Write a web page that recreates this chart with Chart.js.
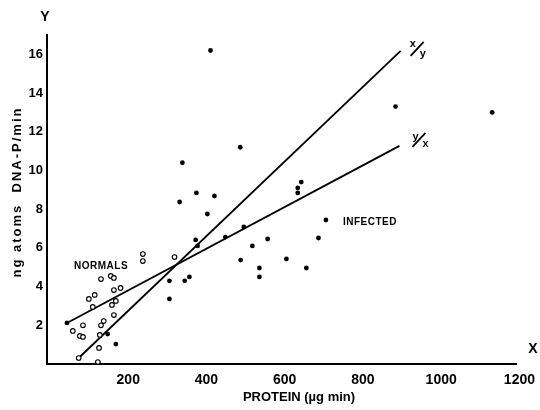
<!DOCTYPE html>
<html><head><meta charset="utf-8">
<script src="https://cdn.jsdelivr.net/npm/chart.js@4"></script>
<style>html,body{margin:0;padding:0;background:#fff}#wrap{width:540px;height:410px}</style>
</head><body><div id="wrap"><canvas id="c" width="540" height="410"></canvas></div>
<script>
// NORMALS (open circles)
const normalsX = [326, 245, 245, 163, 171, 138, 171, 188, 122, 107, 176, 166, 117, 171, 92, 145, 138, 66, 84, 92, 135, 133, 81, 130];
const normalsY = [5.53, 5.68, 5.32, 4.55, 4.45, 4.39, 3.82, 3.93, 3.57, 3.36, 3.26, 3.05, 2.95, 2.53, 2.0, 2.22, 2.0, 1.71, 1.45, 1.4, 1.5, 0.83, 0.31, 0.1];
// INFECTED (filled dots)
const infectedX = [51, 155, 176, 313, 313, 352, 364, 339, 346, 418, 382, 428, 410, 380, 385, 456, 494, 503, 525, 495, 543, 543, 564, 612, 641, 641, 650, 663, 694, 713, 891, 1138];
const infectedY = [2.12, 1.55, 1.03, 4.3, 3.36, 4.3, 4.5, 8.37, 10.4, 16.2, 8.84, 8.68, 7.75, 6.41, 6.1, 6.56, 11.2, 7.08, 6.1, 5.37, 4.96, 4.5, 6.46, 5.43, 9.1, 8.84, 9.4, 4.96, 6.51, 7.44, 13.3, 13.0];
// regression lines (end points)
const lineXonYx = [81, 904];
const lineXonYy = [0.31, 16.18];
const lineYonXx = [51, 901];
const lineYonXy = [2.12, 11.27];
// tick labels
const xTicks = [200, 400, 600, 800, 1000, 1200];
const yTicks = [2, 4, 6, 8, 10, 12, 14, 16];

const pts = (xs, ys) => xs.map((x, i) => ({x: x, y: ys[i]}));
const FONT = '"Liberation Sans", Arial, sans-serif';

const textPlugin = {
  id: 'texts',
  afterDraw(chart) {
    const ctx = chart.ctx;
    const xs = chart.scales.x, ys = chart.scales.y;
    ctx.save();
    ctx.fillStyle = '#000';
    ctx.textBaseline = 'middle';
    // axis letters
    ctx.font = 'bold 14px ' + FONT;
    ctx.textAlign = 'center';
    ctx.fillText('Y', 45, 17);
    ctx.fillText('X', 533, 349);
    // axis titles
    ctx.font = 'bold 13px ' + FONT;
    ctx.fillText('PROTEIN (µg min)', 299, 397);
    ctx.save();
    ctx.translate(17, 192);
    ctx.rotate(-Math.PI / 2);
    try { ctx.letterSpacing = '2px'; } catch (e) {}
    ctx.fillText('ng atoms  DNA-P/min', 0, 0);
    ctx.restore();
    // group labels
    ctx.font = 'bold 10px ' + FONT;
    ctx.textAlign = 'left';
    try { ctx.letterSpacing = '0.5px'; } catch (e) {}
    ctx.fillText('NORMALS', 74, 266);
    ctx.fillText('INFECTED', 343, 222);
    try { ctx.letterSpacing = '0px'; } catch (e) {}
    // line labels x/y and y/x
    const ex1 = xs.getPixelForValue(lineXonYx[1]), ey1 = ys.getPixelForValue(lineXonYy[1]);
    ctx.font = 'bold 11px ' + FONT;
    ctx.fillText('x', ex1 + 9, ey1 - 7);
    ctx.fillText('y', ex1 + 19, ey1 + 3);
    ctx.lineWidth = 1.8;
    ctx.beginPath(); ctx.moveTo(ex1 + 10, ey1 + 5); ctx.lineTo(ex1 + 23, ey1 - 9); ctx.stroke();
    const ex2 = xs.getPixelForValue(lineYonXx[1]), ey2 = ys.getPixelForValue(lineYonXy[1]);
    ctx.fillText('y', ex2 + 13, ey2 - 9);
    ctx.fillText('x', ex2 + 23, ey2 - 2);
    ctx.beginPath(); ctx.moveTo(ex2 + 13, ey2 + 1); ctx.lineTo(ex2 + 26, ey2 - 13); ctx.stroke();
    ctx.restore();
  }
};

new Chart(document.getElementById('c'), {
  type: 'scatter',
  data: {
    datasets: [
      {label: 'Normals', data: pts(normalsX, normalsY), pointRadius: 2.3, pointBackgroundColor: '#fff',
       pointBorderColor: '#000', pointBorderWidth: 1.1, clip: false},
      {label: 'Infected', data: pts(infectedX, infectedY), pointRadius: 2.4, pointBackgroundColor: '#000',
       pointBorderColor: '#000', pointBorderWidth: 0, clip: false},
      {label: 'x/y', data: pts(lineXonYx, lineXonYy), showLine: true, pointRadius: 0, borderColor: '#000',
       borderWidth: 1.8, clip: false},
      {label: 'y/x', data: pts(lineYonXx, lineYonXy), showLine: true, pointRadius: 0, borderColor: '#000',
       borderWidth: 1.8, clip: false}
    ]
  },
  options: {
    responsive: false,
    animation: false,
    devicePixelRatio: 1,
    layout: {padding: {left: 0, right: 20, top: 35, bottom: 0}},
    plugins: {legend: {display: false}, tooltip: {enabled: false}},
    scales: {
      x: {
        type: 'linear', min: 0, max: 1200,
        afterBuildTicks: s => { s.ticks = xTicks.map(v => ({value: v})); },
        afterFit: s => { s.height = 46; },
        grid: {display: true, drawOnChartArea: false, drawTicks: false, color: '#000'},
        border: {display: true, color: '#000', width: 2},
        ticks: {color: '#000', font: {family: FONT, size: 14, weight: 'bold'}, padding: 8, labelOffset: 3,
                maxRotation: 0, callback: v => String(v)}
      },
      y: {
        type: 'linear', min: 0, max: 17,
        afterBuildTicks: s => { s.ticks = yTicks.map(v => ({value: v})); },
        afterFit: s => { s.width = 47; },
        grid: {display: true, drawOnChartArea: false, drawTicks: false, color: '#000'},
        border: {display: true, color: '#000', width: 2},
        ticks: {color: '#000', font: {family: FONT, size: 13, weight: 'bold'}, padding: 4, callback: v => String(v)}
      }
    }
  },
  plugins: [textPlugin]
});
</script>
</body></html>
